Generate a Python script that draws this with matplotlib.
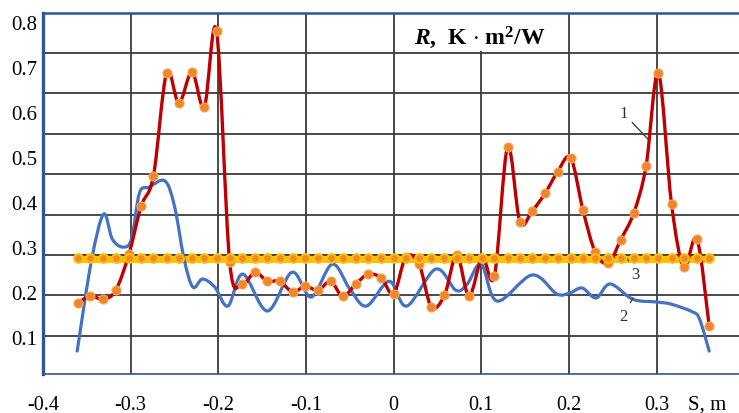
import matplotlib
matplotlib.use("Agg")
import matplotlib.pyplot as plt
import numpy as np
from matplotlib.path import Path
from matplotlib.patches import PathPatch, Rectangle

plt.rcParams["font.family"] = ["Liberation Serif", "DejaVu Serif"]
plt.rcParams["mathtext.fontset"] = "custom"
plt.rcParams["mathtext.rm"] = "Liberation Serif"
plt.rcParams["mathtext.bf"] = "Liberation Serif:bold"
plt.rcParams["mathtext.it"] = "Liberation Serif:italic"
plt.rcParams["mathtext.bfit"] = "Liberation Serif:bold:italic"

# ------------------------------------------------------------
# Data (S in m, R in K*m^2/W)
# ------------------------------------------------------------
s_pts = [-0.360, -0.346, -0.331, -0.317, -0.302, -0.288, -0.274, -0.259, -0.245, -0.230,
         -0.216, -0.202, -0.187, -0.173, -0.158, -0.144, -0.130, -0.115, -0.101, -0.086,
         -0.072, -0.058, -0.043, -0.029, -0.014, 0.000, 0.014, 0.029, 0.043, 0.058,
         0.072, 0.086, 0.101, 0.115, 0.130, 0.144, 0.158, 0.173, 0.187, 0.202,
         0.216, 0.230, 0.245, 0.259, 0.274, 0.288, 0.302, 0.317, 0.331, 0.346, 0.360]

# curve 1 (red, with markers)
r1 = [0.176, 0.191, 0.184, 0.204, 0.284, 0.391, 0.458, 0.687, 0.620, 0.689,
      0.611, 0.780, 0.266, 0.218, 0.244, 0.224, 0.224, 0.200, 0.213, 0.204,
      0.224, 0.191, 0.218, 0.240, 0.231, 0.196, 0.278, 0.262, 0.167, 0.193,
      0.282, 0.191, 0.276, 0.236, 0.522, 0.356, 0.380, 0.420, 0.467, 0.498,
      0.382, 0.289, 0.264, 0.316, 0.376, 0.480, 0.687, 0.396, 0.256, 0.318, 0.124]

# curve 2 (blue, smooth line)
s_blue = [-0.361, -0.345, -0.331, -0.321, -0.309, -0.299, -0.290, -0.279, -0.261, -0.250,
          -0.239, -0.229, -0.218, -0.204, -0.189, -0.172, -0.144, -0.116, -0.094, -0.070,
          -0.050, -0.031, -0.005, 0.015, 0.048, 0.071, 0.084, 0.100, 0.118, 0.158,
          0.186, 0.201, 0.215, 0.231, 0.247, 0.273, 0.300, 0.317, 0.341, 0.349, 0.360]
r2 = [0.069, 0.267, 0.373, 0.318, 0.300, 0.318, 0.420, 0.433, 0.447, 0.391,
      0.273, 0.211, 0.229, 0.211, 0.169, 0.240, 0.158, 0.244, 0.189, 0.262,
      0.207, 0.169, 0.224, 0.169, 0.251, 0.204, 0.218, 0.262, 0.180, 0.238,
      0.196, 0.198, 0.209, 0.187, 0.218, 0.184, 0.178, 0.173, 0.156, 0.140, 0.069]

# curve 3 (constant level)
r3 = [0.275] * len(s_pts)

y_ticks = [0.1, 0.2, 0.3, 0.4, 0.5, 0.6, 0.7, 0.8]
x_ticks = [-0.4, -0.3, -0.2, -0.1, 0, 0.1, 0.2, 0.3]
x_ticklabels = ["-0.4", "-0.3", "-0.2", "-0.1", "0", "0.1", "0.2", "0.3"]
grid_y = [0.102, 0.193, 0.282, 0.371, 0.462, 0.551, 0.642, 0.731]


def smooth_path(xs, ys):
    # Catmull-Rom through the points, drawn as cubic Bezier segments
    pts = np.column_stack([xs, ys])
    n = len(pts)
    verts = [pts[0]]
    codes = [Path.MOVETO]
    for i in range(n - 1):
        p0 = pts[i - 1] if i > 0 else pts[i]
        p1, p2 = pts[i], pts[i + 1]
        p3 = pts[i + 2] if i + 2 < n else pts[i + 1]
        verts += [p1 + (p2 - p0) / 6, p2 - (p3 - p1) / 6, p2]
        codes += [Path.CURVE4] * 3
    return Path(verts, codes)


fig = plt.figure(figsize=(7.39, 4.14), dpi=100)
ax = fig.add_axes([43 / 739, 1 - 375 / 414, 1 - 43 / 739, 361 / 414])
ax.set_xlim(-0.4, 0.394)
ax.set_ylim(0.018, 0.82)

# grid
ax.set_axisbelow(True)
ax.set_xticks(x_ticks)
ax.set_xticklabels(x_ticklabels)
ax.set_yticks(y_ticks)
ax.set_yticklabels([f"{v:.1f}" for v in y_ticks])
ax.set_yticks(grid_y, minor=True)
ax.grid(True, axis="x", which="major", color="#3c3c3c", lw=1.3)
ax.grid(True, axis="y", which="minor", color="#3c3c3c", lw=1.3)
ax.tick_params(axis="both", which="both", length=0, labelsize=15)
ax.tick_params(axis="x", pad=15, labelsize=14.5)
ax.tick_params(axis="y", pad=4)

for side in ["left", "top", "bottom"]:
    ax.spines[side].set_color("#2F5597")
ax.spines["left"].set_linewidth(2.4)
ax.spines["top"].set_linewidth(1.8)
ax.spines["bottom"].set_linewidth(1.2)
ax.spines["right"].set_visible(False)

# curve 3: yellow band below the grid, markers on top
ax.plot(s_pts, r3, color="#FFC000", lw=6.5, zorder=0.4, solid_capstyle="round")
# curve 2
ax.add_patch(PathPatch(smooth_path(s_blue, r2), fill=False, edgecolor="#4472C4",
                       lw=2.3, zorder=2, capstyle="round", joinstyle="round"))
# curve 1
ax.add_patch(PathPatch(smooth_path(s_pts, r1), fill=False, edgecolor="#C00000",
                       lw=2.4, zorder=3, capstyle="round", joinstyle="round"))
ax.plot(s_pts, r1, ls="none", marker="o", ms=6.5, mfc="#F0862A", mec="#F5A55A",
        mew=0.8, zorder=3.5)
ax.plot(s_pts, r3, ls="none", marker="o", ms=6.3, mfc="#EE8A2C", mec="#FFC000",
        mew=1.5, zorder=4)

# title box
ax.add_patch(Rectangle((0.515, 0.894), 0.23, 0.11, transform=ax.transAxes,
                       facecolor="white", edgecolor="none", zorder=0.6, clip_on=False))
ax.text(0.628, 0.935, r"$\mathbfit{R}$,  K$\,\cdot\,$m$^{\mathbf{2}}$/W", transform=ax.transAxes,
        fontsize=17, fontweight="bold", ha="center", va="center", zorder=5)

# curve labels
lab = dict(fontsize=12, color="#333333", ha="center", va="center", zorder=5)
arr = dict(arrowstyle="-", color="#444444", lw=1.0, shrinkA=2, shrinkB=0)
ax.annotate("1", xy=(0.290, 0.540), xytext=(0.262, 0.598), arrowprops=arr, **lab)
ax.annotate("2", xy=(0.273, 0.187), xytext=(0.262, 0.147), arrowprops=arr, **lab)
ax.annotate("3", xy=(0.267, 0.273), xytext=(0.276, 0.240), arrowprops=arr, **lab)

fig.text(688 / 739, 1 - 405 / 414, "S, m", fontsize=15, ha="left", va="center")

plt.savefig("out.png", dpi=100)
